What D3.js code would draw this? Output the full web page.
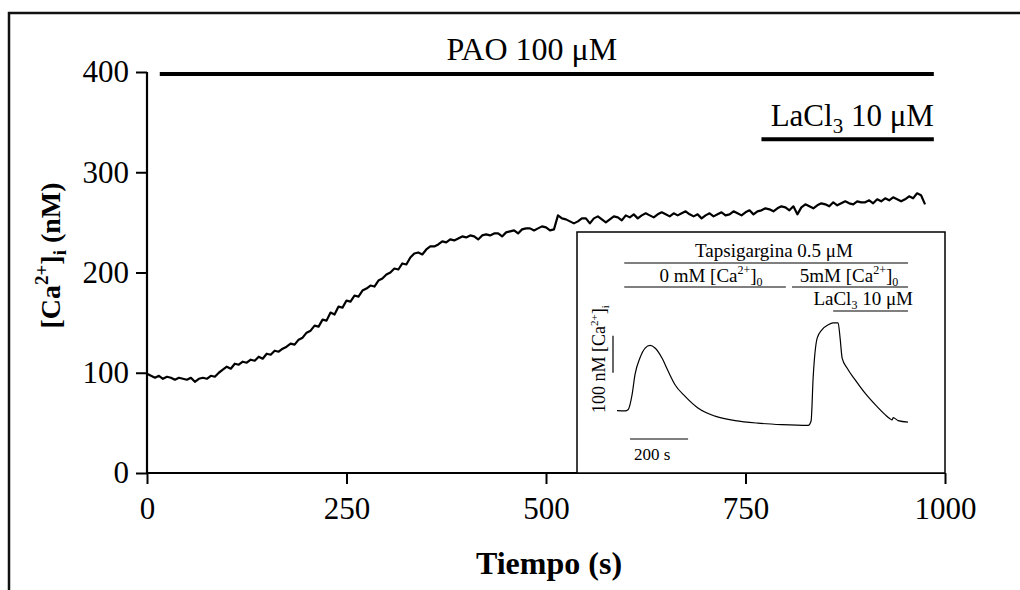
<!DOCTYPE html>
<html>
<head>
<meta charset="utf-8">
<script src="https://cdnjs.cloudflare.com/ajax/libs/d3/7.8.5/d3.min.js"></script>
<style>
  body { margin: 0; background: #fff; }
  text { font-family: "Liberation Serif", "Times New Roman", serif; fill: #000; }
</style>
</head>
<body>
<div id="chart"></div>
<script>
// ==== DATA ====
const X_TICKS = [0, 250, 500, 750, 1000];
const Y_TICKS = [0, 100, 200, 300, 400];
const STEP = 5; // s between samples of the main trace

// [Ca2+]i (nM), one sample every 5 s from 0 to 975 s
const MAIN_CA = [
  99, 97, 95, 97, 94, 96, 95, 93, 95, 94,
  93, 95, 91, 94, 95, 94, 97, 96, 100, 103,
  106, 104, 109, 108, 111, 110, 113, 112, 116, 114,
  119, 118, 122, 121, 124, 126, 129, 128, 133, 135,
  140, 142, 147, 146, 153, 152, 160, 158, 166, 165,
  172, 171, 177, 176, 182, 184, 187, 186, 192, 194,
  198, 200, 204, 203, 209, 208, 215, 219, 220, 218,
  223, 226, 226, 228, 231, 230, 233, 232, 234, 236,
  235, 237, 236, 233, 237, 238, 237, 239, 239, 236,
  240, 241, 242, 239, 243, 244, 244, 242, 244, 246,
  245, 242, 243, 257, 254, 253, 251, 249, 251, 254,
  254, 249, 254, 256, 253, 250, 253, 256, 255, 252,
  257, 255, 258, 254, 257, 259, 257, 255, 258, 260,
  258, 256, 259, 257, 259, 261, 258, 256, 258, 254,
  257, 259, 256, 258, 260, 257, 258, 261, 259, 257,
  260, 262, 258, 261, 262, 264, 263, 261, 264, 266,
  265, 262, 266, 258, 265, 268, 266, 264, 267, 269,
  268, 266, 270, 267, 269, 271, 269, 268, 271, 270,
  270, 272, 269, 273, 271, 274, 272, 275, 273, 271,
  273, 276, 274, 279, 277, 268
];

// treatment bars of the main panel (start s, end s, level nM)
const PAO_BAR = [16, 986, 398];
const LACL_BAR = [770, 986, 333];

// inset trace: time (s) and [Ca2+]i (nM)
const INSET_T  = [0, 28, 38, 52, 62, 79, 97, 114, 131, 155, 176, 200, 234, 279, 338, 407, 486, 569, 659,
                  669, 676, 690, 707, 728, 745, 762, 769, 776, 793, 821, 855, 890, 924, 941, 948, 952, 969, 1003];
const INSET_CA = [93, 92, 95, 136, 190, 235, 262, 269, 262, 235, 200, 163, 132, 100, 78, 66, 59, 55, 53,
                  65, 181, 289, 312, 325, 330, 330, 289, 235, 208, 176, 140, 109, 82, 71, 68, 74, 66, 62];
// inset bars (start s, end s)
const TAPSI_BAR = [25, 1003];
const CA0_BAR = [25, 582];
const CA5_BAR = [603, 1003];
const INSET_LA_BAR = [745, 1003];
const SCALE_T = [45, 245];     // 200 s
const SCALE_CA = [195, 295];   // 100 nM

// ==== SIZE ====
const width = 1020, height = 590;
const margin = { top: 70, right: 75, bottom: 117, left: 147 };

const x = d3.scaleLinear().domain([0, 1000]).range([margin.left, width - margin.right]);
const y = d3.scaleLinear().domain([0, 400]).range([height - margin.bottom, margin.top + 2]);

const svg = d3.select("#chart").append("svg")
  .attr("width", width).attr("height", height);

// outer frame (only top and left edges show)
svg.append("path")
  .attr("d", `M9,${height} V13 H${width}`)
  .attr("fill", "none").attr("stroke", "#111").attr("stroke-width", 2.5);

// axes
const gx = svg.append("g").attr("transform", `translate(0,${y(0)})`)
  .call(d3.axisBottom(x).tickValues(X_TICKS).tickSize(11).tickPadding(13).tickFormat(d3.format("d")));
const gy = svg.append("g").attr("transform", `translate(${x(0)},0)`)
  .call(d3.axisLeft(y).tickValues(Y_TICKS).tickSize(11).tickPadding(7).tickFormat(d3.format("d")));

[gx, gy].forEach(g => {
  g.select(".domain").attr("stroke", "#000").attr("stroke-width", 2.2);
  g.selectAll(".tick line").attr("stroke", "#000").attr("stroke-width", 2);
  g.selectAll(".tick text").attr("font-family", "Liberation Serif").attr("font-size", 31).attr("fill", "#000");
});
gy.select(".domain").attr("d", `M-0,${y(400)}V${y(0)}`);
gx.select(".domain").attr("d", `M${x(0)},0H${x(1000)}`);
gx.selectAll(".tick text").attr("dy", "0.71em");

// axis labels
svg.append("text")
  .attr("x", (x(0) + x(1000)) / 2 + 3).attr("y", 574)
  .attr("text-anchor", "middle").attr("font-weight", "bold").attr("font-size", 32)
  .text("Tiempo (s)");

const yl = svg.append("text")
  .attr("transform", `translate(60,${y(217)}) rotate(-90)`)
  .attr("text-anchor", "middle").attr("font-weight", "bold").attr("font-size", 28);
yl.append("tspan").text("[Ca");
yl.append("tspan").attr("dy", -12).attr("font-size", 19).text("2+");
yl.append("tspan").attr("dy", 12).text("]");
yl.append("tspan").attr("dy", 6).attr("font-size", 19).text("i");
yl.append("tspan").attr("dy", -6).text(" (nM)");

// treatment bars
svg.append("line")
  .attr("x1", x(PAO_BAR[0])).attr("x2", x(PAO_BAR[1]))
  .attr("y1", y(PAO_BAR[2])).attr("y2", y(PAO_BAR[2]))
  .attr("stroke", "#000").attr("stroke-width", 4);
svg.append("text")
  .attr("x", (x(PAO_BAR[0]) + x(PAO_BAR[1])) / 2 - 15).attr("y", y(PAO_BAR[2]) - 14)
  .attr("text-anchor", "middle").attr("font-size", 32)
  .text("PAO 100 μM");

svg.append("line")
  .attr("x1", x(LACL_BAR[0])).attr("x2", x(LACL_BAR[1]))
  .attr("y1", y(LACL_BAR[2])).attr("y2", y(LACL_BAR[2]))
  .attr("stroke", "#000").attr("stroke-width", 4);
const lt = svg.append("text")
  .attr("x", x(LACL_BAR[1])).attr("y", y(LACL_BAR[2]) - 13)
  .attr("text-anchor", "end").attr("font-size", 31);
lt.append("tspan").text("LaCl");
lt.append("tspan").attr("dy", 7).attr("font-size", 21).text("3");
lt.append("tspan").attr("dy", -7).text(" 10 μM");

// main trace
const line = d3.line()
  .x((d, i) => x(i * STEP))
  .y(d => y(d));
svg.append("path")
  .datum(MAIN_CA)
  .attr("fill", "none").attr("stroke", "#000").attr("stroke-width", 2.2)
  .attr("stroke-linejoin", "round")
  .attr("d", line);

// ==== INSET ====
const inset = { x0: 577, x1: x(1000), y0: 232, y1: y(0) };
svg.append("rect")
  .attr("x", inset.x0).attr("y", inset.y0)
  .attr("width", inset.x1 - inset.x0).attr("height", inset.y1 - inset.y0)
  .attr("fill", "#fff").attr("stroke", "#000").attr("stroke-width", 1.5);

const ix = d3.scaleLinear().domain([0, 1003]).range([617, 908]);
const iy = d3.scaleLinear().domain([0, 100]).range([445, 408]);

function insetBar(b, py) {
  svg.append("line")
    .attr("x1", ix(b[0])).attr("x2", ix(b[1]))
    .attr("y1", py).attr("y2", py)
    .attr("stroke", "#000").attr("stroke-width", 1.2);
}
insetBar(TAPSI_BAR, 263);
insetBar(CA0_BAR, 287);
insetBar(CA5_BAR, 287);
insetBar(INSET_LA_BAR, 311);

svg.append("text").attr("x", 774).attr("y", 257)
  .attr("text-anchor", "middle").attr("font-size", 19)
  .text("Tapsigargina 0.5 μM");

function caText(xp, yp, pre) {
  const t = svg.append("text").attr("x", xp).attr("y", yp)
    .attr("text-anchor", "middle").attr("font-size", 19);
  t.append("tspan").text(pre + "[Ca");
  t.append("tspan").attr("dy", -8).attr("font-size", 12).text("2+");
  t.append("tspan").attr("dy", 8).text("]");
  t.append("tspan").attr("dy", 4).attr("font-size", 12).text("0");
}
caText(711, 282, "0 mM ");
caText(849, 282, "5mM ");

const il = svg.append("text").attr("x", 913).attr("y", 305)
  .attr("text-anchor", "end").attr("font-size", 19);
il.append("tspan").text("LaCl");
il.append("tspan").attr("dy", 4).attr("font-size", 12).text("3");
il.append("tspan").attr("dy", -4).text(" 10 μM");

// scale bars
svg.append("line")
  .attr("x1", ix(SCALE_T[0])).attr("x2", ix(SCALE_T[1]))
  .attr("y1", 439).attr("y2", 439)
  .attr("stroke", "#000").attr("stroke-width", 1.2);
svg.append("text").attr("x", ix(SCALE_T[0]) + 4).attr("y", 460)
  .attr("font-size", 17).text("200 s");

svg.append("line")
  .attr("x1", 613).attr("x2", 613)
  .attr("y1", iy(SCALE_CA[0])).attr("y2", iy(SCALE_CA[1]))
  .attr("stroke", "#000").attr("stroke-width", 1.2);
const vl = svg.append("text")
  .attr("transform", `translate(605,359) rotate(-90)`)
  .attr("text-anchor", "middle").attr("font-size", 18);
vl.append("tspan").text("100 nM [Ca");
vl.append("tspan").attr("dy", -7).attr("font-size", 11).text("2+");
vl.append("tspan").attr("dy", 7).text("]");
vl.append("tspan").attr("dy", 4).attr("font-size", 11).text("i");

const iline = d3.line()
  .x((d, i) => ix(INSET_T[i]))
  .y(d => iy(d))
  .curve(d3.curveMonotoneX);
svg.append("path")
  .datum(INSET_CA)
  .attr("fill", "none").attr("stroke", "#000").attr("stroke-width", 1.2)
  .attr("d", iline);
</script>
</body>
</html>
